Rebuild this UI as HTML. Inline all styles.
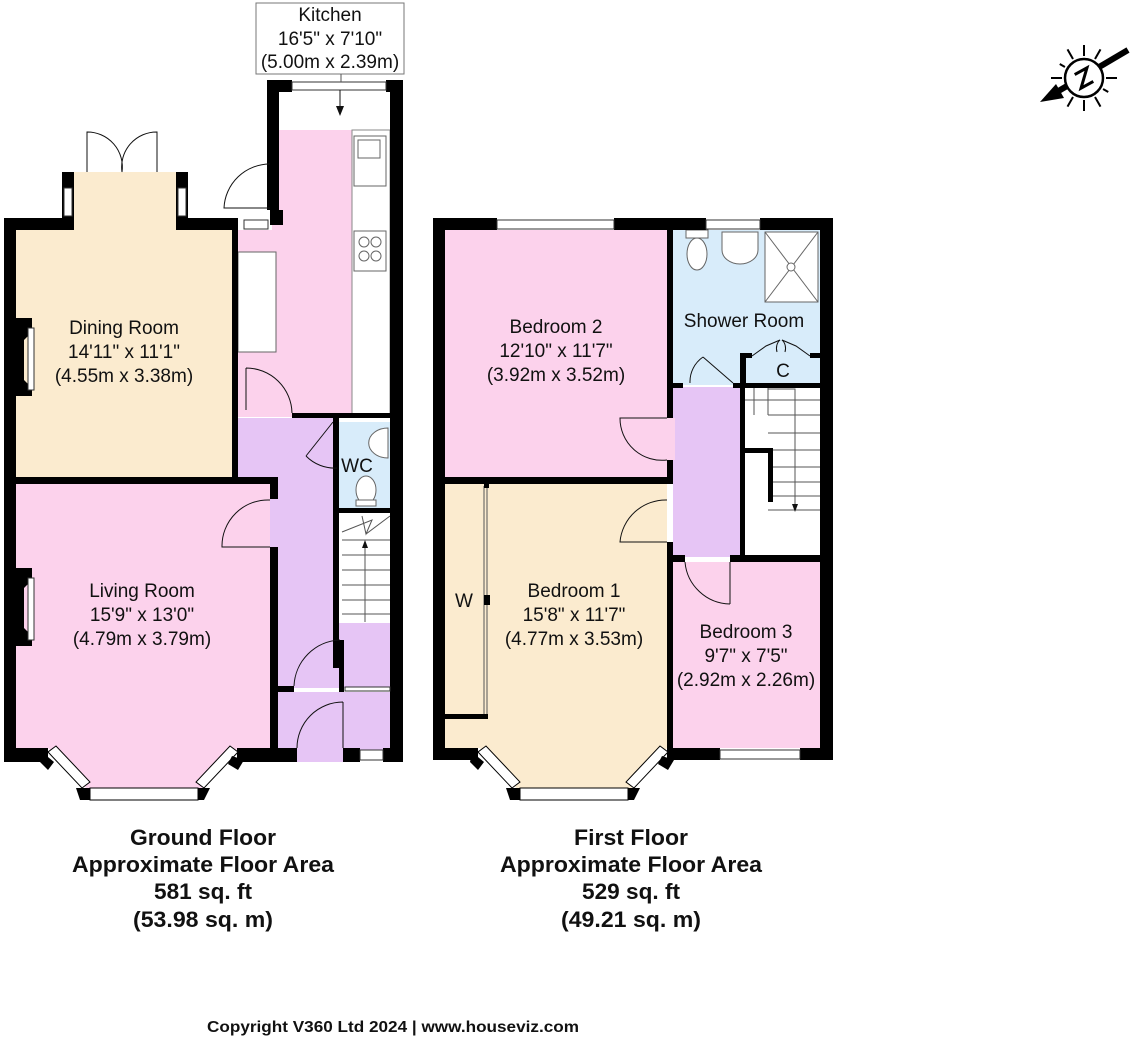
<!DOCTYPE html>
<html><head><meta charset="utf-8"><style>
html,body{margin:0;padding:0;background:#fff;}
svg{display:block;}
text{font-family:"Liberation Sans",Arial,sans-serif;fill:#111;}
.t{font-size:19px;text-anchor:middle;}
.b{font-family:"Liberation Sans Narrow","Liberation Sans",sans-serif;font-weight:bold;font-size:22px;text-anchor:middle;}
</style></head><body>
<svg width="1139" height="1040" viewBox="0 0 1139 1040" xmlns="http://www.w3.org/2000/svg">
<!-- ============ GROUND FLOOR ============ -->
<rect x="16" y="230" width="222" height="248" fill="#fbebcf"/>
<rect x="72" y="172" width="106" height="60" fill="#fbebcf"/>
<rect x="279" y="92" width="112" height="325" fill="#fff"/>
<rect x="272" y="130" width="80" height="287" fill="#fcd2ec"/>
<rect x="237" y="230" width="115" height="187" fill="#fcd2ec"/>
<rect x="238" y="252" width="38" height="100" fill="#fff" stroke="#666" stroke-width="1"/>
<rect x="352" y="130" width="38" height="287" fill="#fff" stroke="#888" stroke-width="1"/>
<rect x="237" y="418" width="100" height="270" fill="#e6c5f5"/>
<rect x="337" y="622" width="53" height="66" fill="#e6c5f5"/>
<rect x="278" y="692" width="112" height="58" fill="#e6c5f5"/>
<rect x="296" y="748" width="47" height="14" fill="#e6c5f5"/>
<rect x="337" y="422" width="53" height="86" fill="#d8ecfa"/>
<rect x="337" y="513" width="53" height="110" fill="#fff"/>
<path d="M16 483 H270 V748 H16 Z" fill="#fcd2ec"/>
<path d="M48 748 L90 792 H198 L238 748 Z" fill="#fcd2ec"/>
<g stroke="#555" stroke-width="1" fill="none">
<path d="M342 532 L372 520 L366 534 L362 516 L366 534 L390 516"/>
<line x1="342" y1="540" x2="390" y2="540"/><line x1="342" y1="555" x2="390" y2="555"/>
<line x1="342" y1="570" x2="390" y2="570"/><line x1="342" y1="585" x2="390" y2="585"/>
<line x1="342" y1="600" x2="390" y2="600"/><line x1="342" y1="614" x2="390" y2="614"/>
<line x1="365" y1="622" x2="365" y2="546"/>
</g>
<path d="M365 540 L362 548 L368 548 Z" fill="#111"/>
<g fill="#000">
<rect x="4" y="218" width="12" height="544"/>
<rect x="4" y="218" width="70" height="12"/>
<rect x="62" y="172" width="12" height="58"/>
<rect x="176" y="172" width="12" height="58"/>
<rect x="176" y="218" width="62" height="12"/>
<rect x="270" y="210" width="13" height="15"/>
<rect x="267" y="80" width="12" height="130"/>
<rect x="390" y="80" width="13" height="682"/>
<rect x="267" y="80" width="25" height="12"/>
<rect x="386" y="80" width="17" height="12"/>
<rect x="232" y="230" width="6" height="248"/>
<rect x="16" y="477" width="262" height="7"/>
<rect x="270" y="477" width="8" height="22"/>
<rect x="270" y="547" width="8" height="215"/>
<rect x="292" y="413" width="98" height="5"/>
<rect x="333" y="418" width="6" height="250"/>
<rect x="339" y="508" width="51" height="5"/>
<rect x="278" y="686" width="16" height="6"/>
<rect x="339" y="640" width="5" height="52"/>
<rect x="4" y="748" width="44" height="14"/>
<rect x="237" y="748" width="60" height="14"/>
<rect x="343" y="748" width="17" height="14"/>
<rect x="383" y="748" width="20" height="14"/>
<path d="M12 318 H32 V332 L24 340 V380 L32 388 V396 H12 Z"/>
<path d="M12 568 H32 V580 L24 588 V628 L32 636 V646 H12 Z"/>
</g>
<g stroke="#000" fill="#fff">
<path d="M48 752 L82 788 L90 782 L56 746 Z" stroke-width="1"/>
<path d="M238 752 L204 788 L196 782 L230 746 Z" stroke-width="1"/>
<rect x="90" y="788" width="108" height="12" stroke-width="1"/>
</g>
<g fill="#000">
<path d="M42 752 L54 762 L48 770 L40 762Z"/>
<path d="M76 788 L90 788 L90 800 L80 800 Z"/>
<path d="M198 788 L210 788 L204 800 L198 800 Z"/>
<path d="M232 756 L244 760 L238 770 L228 764Z"/>
</g>
<g fill="#fff" stroke="#333" stroke-width="1">
<rect x="292" y="82" width="94" height="8"/>
<rect x="244" y="220" width="24" height="9"/>
<rect x="64" y="188" width="8" height="28"/>
<rect x="178" y="188" width="8" height="28"/>
<rect x="360" y="750" width="23" height="10"/>
<rect x="345" y="687" width="45" height="4"/>
<rect x="28" y="328" width="6" height="62"/>
<rect x="28" y="578" width="6" height="62"/>
</g>
<g stroke="#111" stroke-width="1" fill="none">
<path d="M87 172 V132 A35 35 0 0 1 122 172"/>
<path d="M157 172 V132 A35 35 0 0 0 122 172"/>
<path d="M270 164 A46 46 0 0 0 224 208 H270"/>
<path d="M246 368 V410 M246 368 A46 46 0 0 1 292 413"/>
<path d="M333 422 L306 456 M306 456 A40 40 0 0 0 337 468"/>
<path d="M270 500 A46 46 0 0 0 222 547 H270"/>
<path d="M340 640 A48 48 0 0 0 294 686"/>
<path d="M343 702 A46 46 0 0 0 297 748 M343 702 V748"/>
<line x1="340" y1="90" x2="340" y2="108"/>
</g>
<path d="M336 106 L344 106 L340 116 Z" fill="#111"/>
<g stroke="#666" fill="#fff" stroke-width="1">
<path d="M388 428 A18 14 0 0 0 388 458 Z"/>
<ellipse cx="366" cy="490" rx="10" ry="14"/>
<rect x="356" y="500" width="20" height="6"/>
<rect x="354" y="136" width="32" height="50"/>
<rect x="358" y="140" width="22" height="18"/>
<rect x="354" y="231" width="32" height="40"/>
<circle cx="364" cy="242" r="5"/><circle cx="376" cy="242" r="5"/>
<circle cx="364" cy="256" r="5"/><circle cx="376" cy="256" r="5"/>
</g>
<rect x="256" y="3" width="148" height="71" fill="#fff" stroke="#777" stroke-width="1"/>
<line x1="341" y1="74" x2="341" y2="82" stroke="#555"/>
<text class="t" x="330" y="21">Kitchen</text>
<text class="t" x="330" y="45">16'5" x 7'10"</text>
<text class="t" x="330" y="68">(5.00m x 2.39m)</text>
<text class="t" x="124" y="334">Dining Room</text>
<text class="t" x="124" y="358">14'11" x 11'1"</text>
<text class="t" x="124" y="382">(4.55m x 3.38m)</text>
<text class="t" x="357" y="472">WC</text>
<text class="t" x="142" y="597">Living Room</text>
<text class="t" x="142" y="621">15'9" x 13'0"</text>
<text class="t" x="142" y="645">(4.79m x 3.79m)</text>

<!-- ============ FIRST FLOOR ============ -->
<rect x="445" y="230" width="222" height="247" fill="#fcd2ec"/>
<rect x="673" y="230" width="147" height="155" fill="#d8ecfa"/>
<rect x="673" y="387" width="67" height="170" fill="#e6c5f5"/>
<rect x="740" y="387" width="80" height="172" fill="#fff"/>
<rect x="667" y="418" width="8" height="42" fill="#fcd2ec"/>
<path d="M445 483 H667 V748 L628 792 H520 L480 748 H445 Z" fill="#fbebcf"/>
<rect x="673" y="562" width="147" height="186" fill="#fcd2ec"/>
<g stroke="#666" fill="#fff" stroke-width="1">
<rect x="765" y="232" width="53" height="70"/>
<line x1="765" y1="232" x2="818" y2="302"/><line x1="818" y1="232" x2="765" y2="302"/>
<circle cx="791" cy="267" r="4"/>
<path d="M722 232 V250 A18 14 0 0 0 758 250 V232 Z"/>
<ellipse cx="697" cy="254" rx="10" ry="16"/>
<rect x="686" y="230" width="22" height="8"/>
</g>
<g stroke="#555" stroke-width="1" fill="none">
<line x1="754" y1="387" x2="754" y2="415"/><line x1="768" y1="387" x2="768" y2="415"/>
<line x1="740" y1="400" x2="820" y2="400"/><line x1="768" y1="415" x2="820" y2="415"/>
<line x1="768" y1="433" x2="820" y2="433"/><line x1="768" y1="450" x2="820" y2="450"/>
<line x1="768" y1="467" x2="820" y2="467"/><line x1="768" y1="482" x2="820" y2="482"/>
<line x1="768" y1="496" x2="820" y2="496"/><line x1="768" y1="510" x2="820" y2="510"/>
<path d="M768 389 H795 V505"/>
<line x1="487" y1="486" x2="487" y2="714"/><line x1="484" y1="486" x2="484" y2="714"/>
</g>
<path d="M795 512 L792 504 L798 504 Z" fill="#111"/>
<g fill="#000">
<rect x="433" y="218" width="12" height="542"/>
<rect x="433" y="218" width="64" height="12"/>
<rect x="614" y="218" width="92" height="12"/>
<rect x="760" y="218" width="73" height="12"/>
<rect x="820" y="218" width="13" height="542"/>
<rect x="667" y="230" width="6" height="188"/>
<rect x="667" y="460" width="6" height="23"/>
<rect x="445" y="477" width="228" height="7"/>
<rect x="667" y="542" width="6" height="206"/>
<rect x="673" y="383" width="10" height="5"/>
<rect x="733" y="383" width="12" height="5"/>
<rect x="740" y="353" width="6" height="35"/>
<rect x="740" y="353" width="12" height="5"/>
<rect x="810" y="353" width="10" height="5"/>
<rect x="740" y="383" width="80" height="5"/>
<rect x="740" y="388" width="5" height="172"/>
<rect x="745" y="448" width="28" height="5"/>
<rect x="768" y="448" width="5" height="54"/>
<rect x="730" y="555" width="90" height="7"/>
<rect x="673" y="555" width="12" height="7"/>
<rect x="445" y="714" width="43" height="5"/>
<rect x="484" y="483" width="5" height="5"/>
<rect x="484" y="595" width="6" height="10"/>
<rect x="433" y="748" width="45" height="12"/>
<rect x="667" y="748" width="53" height="12"/>
<rect x="800" y="748" width="33" height="12"/>
</g>
<g stroke="#000" fill="#fff">
<path d="M478 752 L512 788 L520 782 L486 746 Z" stroke-width="1"/>
<path d="M668 752 L634 788 L626 782 L660 746 Z" stroke-width="1"/>
<rect x="520" y="788" width="108" height="12" stroke-width="1"/>
</g>
<g fill="#000">
<path d="M472 752 L484 762 L478 770 L470 762Z"/>
<path d="M506 788 L520 788 L520 800 L510 800 Z"/>
<path d="M628 788 L640 788 L634 800 L628 800 Z"/>
<path d="M662 756 L674 760 L668 770 L658 764Z"/>
</g>
<g fill="#fff" stroke="#333" stroke-width="1">
<rect x="497" y="220" width="117" height="9"/>
<rect x="706" y="220" width="54" height="9"/>
<rect x="720" y="750" width="80" height="9"/>
</g>
<g stroke="#111" stroke-width="1" fill="none">
<path d="M667 460 A42 42 0 0 1 620 418 H667"/>
<path d="M667 500 A46 46 0 0 0 620 542 H667"/>
<path d="M733 383 L703 357 M703 357 A30 30 0 0 0 690 383"/>
<path d="M730 562 V604 M730 604 A46 46 0 0 1 685 562"/>
<path d="M752 356 L766 346 L780 340 M810 356 L796 346 L782 340"/>
<path d="M780 340 A8 10 0 0 0 777 352 M782 340 A8 10 0 0 1 785 352"/>
</g>
<text class="t" x="556" y="333">Bedroom 2</text>
<text class="t" x="556" y="357">12'10" x 11'7"</text>
<text class="t" x="556" y="381">(3.92m x 3.52m)</text>
<text class="t" x="744" y="327">Shower Room</text>
<text class="t" x="783" y="377">C</text>
<text class="t" x="464" y="607">W</text>
<text class="t" x="574" y="597">Bedroom 1</text>
<text class="t" x="574" y="621">15'8" x 11'7"</text>
<text class="t" x="574" y="645">(4.77m x 3.53m)</text>
<text class="t" x="746" y="638">Bedroom 3</text>
<text class="t" x="746" y="662">9'7" x 7'5"</text>
<text class="t" x="746" y="686">(2.92m x 2.26m)</text>

<text class="b" x="203" y="845" textLength="146" lengthAdjust="spacingAndGlyphs">Ground Floor</text>
<text class="b" x="203" y="872" textLength="262" lengthAdjust="spacingAndGlyphs">Approximate Floor Area</text>
<text class="b" x="203" y="899" textLength="98" lengthAdjust="spacingAndGlyphs">581 sq. ft</text>
<text class="b" x="203" y="927" textLength="140" lengthAdjust="spacingAndGlyphs">(53.98 sq. m)</text>
<text class="b" x="631" y="845" textLength="114" lengthAdjust="spacingAndGlyphs">First Floor</text>
<text class="b" x="631" y="872" textLength="262" lengthAdjust="spacingAndGlyphs">Approximate Floor Area</text>
<text class="b" x="631" y="899" textLength="98" lengthAdjust="spacingAndGlyphs">529 sq. ft</text>
<text class="b" x="631" y="927" textLength="140" lengthAdjust="spacingAndGlyphs">(49.21 sq. m)</text>
<text class="b" x="393" y="1032" style="font-size:16px" textLength="372" lengthAdjust="spacingAndGlyphs">Copyright V360 Ltd 2024 | www.houseviz.com</text>

<!-- compass -->
<g transform="translate(1084,78)">
<g stroke="#000" stroke-width="2">
<line x1="0" y1="-33" x2="0" y2="-22" transform="rotate(-30)"/>
<line x1="0" y1="-33" x2="0" y2="-22" transform="rotate(0)"/>
<line x1="0" y1="-33" x2="0" y2="-22" transform="rotate(30)"/>
<line x1="0" y1="-33" x2="0" y2="-22" transform="rotate(90)"/>
<line x1="0" y1="-33" x2="0" y2="-22" transform="rotate(150)"/>
<line x1="0" y1="-33" x2="0" y2="-22" transform="rotate(180)"/>
<line x1="0" y1="-33" x2="0" y2="-22" transform="rotate(210)"/>
<line x1="0" y1="-33" x2="0" y2="-22" transform="rotate(270)"/>
<line x1="0" y1="-28" x2="0" y2="-22" transform="rotate(-60)"/>
<line x1="0" y1="-28" x2="0" y2="-22" transform="rotate(120)"/>
</g>
<line x1="-34" y1="18" x2="44" y2="-28" stroke="#000" stroke-width="6"/>
<path d="M-44 24 L-28 6 L-20 20 Z" fill="#000"/>
<circle r="19" fill="#fff" stroke="#000" stroke-width="2.5"/>
<path d="M-7 -7 L7 -8 L-7 8 L7 7" stroke="#000" stroke-width="3" fill="none" transform="rotate(-25)"/>
</g>
</svg>
</body></html>
